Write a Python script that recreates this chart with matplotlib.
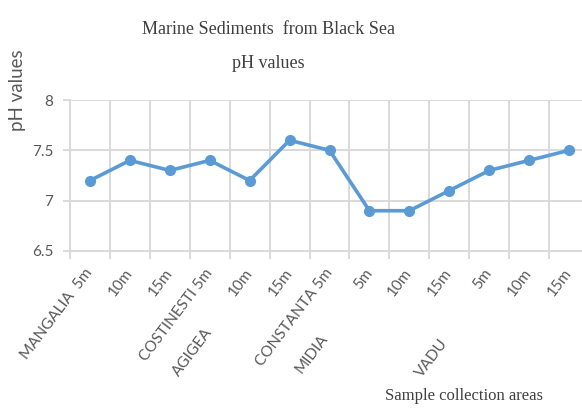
import numpy as np
import matplotlib.pyplot as plt
import matplotlib.transforms as mtransforms

# data
depth_labels = ['MANGALIA  5m', '10m', '15m', 'COSTINESTI 5m', '10m', '15m',
                'CONSTANTA 5m', '5m', '10m', '15m', '5m', '10m', '15m']
ph_values = [7.2, 7.4, 7.3, 7.4, 7.2, 7.6, 7.5, 6.9, 6.9, 7.1, 7.3, 7.4, 7.5]
group_labels = ['AGIGEA', 'MIDIA', 'VADU']
group_pos = [3.0, 5.9, 8.9]
group_y = [330, 336, 341]   # pixel rows of the lower labels

blue = '#5B9BD5'
grid_c = '#D9D9D9'
txt_c = '#595959'

fig = plt.figure(figsize=(5.82, 4.08), dpi=100)
ax = fig.add_axes([70 / 582, 1 - 251 / 408, 519 / 582, 151 / 408])

x = np.arange(len(ph_values))
ax.plot(x, ph_values, color=blue, lw=2.6, marker='o', ms=7, zorder=3)

ax.set_xlim(-0.5, len(ph_values) - 0.5)
ax.set_ylim(6.5, 8)
ax.set_yticks([6.5, 7, 7.5, 8])
ax.set_yticklabels(['6.5', '7', '7.5', '8'])

# vertical grid on category boundaries
ax.set_xticks(np.arange(-0.5, len(ph_values)), minor=True)
ax.set_xticks(x)
ax.set_xticklabels(depth_labels, rotation=53, ha='right', va='center',
                   rotation_mode='anchor', fontsize=11, color=txt_c, family='Lato')
ax.tick_params(axis='x', which='major', length=0, pad=14)
ax.tick_params(axis='x', which='minor', length=6, color=grid_c, width=1.4)
ax.tick_params(axis='y', length=5, color=grid_c, width=1.4, labelsize=11,
               labelcolor=txt_c, pad=7)
for lab in ax.get_yticklabels():
    lab.set_family('Lato')

ax.grid(True, which='minor', axis='x', color=grid_c, lw=1.4)
ax.grid(True, which='major', axis='y', color=grid_c, lw=1.4)
for s in ['top', 'right']:
    ax.spines[s].set_visible(False)
for s in ['left', 'bottom']:
    ax.spines[s].set_color(grid_c)
    ax.spines[s].set_linewidth(1.4)

# second-level category labels
trans = mtransforms.blended_transform_factory(ax.transData, fig.transFigure)
for lab, p, py in zip(group_labels, group_pos, group_y):
    ax.text(p, 1 - py / 408, lab, transform=trans, rotation=53, ha='right',
            va='center', rotation_mode='anchor', fontsize=11, color=txt_c,
            family='Lato', clip_on=False)

fig.text(268 / 582, 1 - 30 / 408, 'Marine Sediments  from Black Sea', ha='center',
         va='center', fontsize=13, family='Liberation Serif', color='#404040')
fig.text(268 / 582, 1 - 63 / 408, 'pH values', ha='center', va='center',
         fontsize=13, family='Liberation Serif', color='#404040')
fig.text(18 / 582, 1 - 90 / 408, 'pH values', rotation=90, ha='center', va='center',
         fontsize=13.5, family='Lato', color=txt_c)
fig.text(464 / 582, 1 - 396 / 408, 'Sample collection areas', ha='center', va='center',
         fontsize=12, family='Liberation Serif', color='#404040')

fig.savefig('out.png', dpi=100)
